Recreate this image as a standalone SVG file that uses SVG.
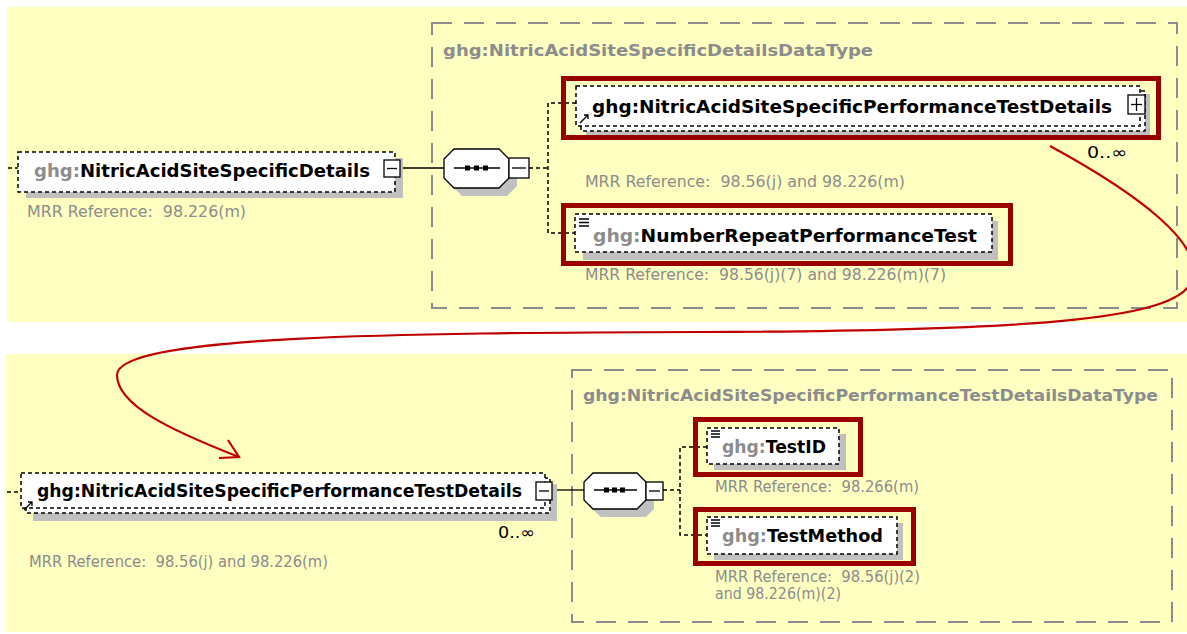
<svg xmlns="http://www.w3.org/2000/svg" width="1187" height="634" viewBox="0 0 1187 634">
<style>
.panel{fill:#FFFFC2}
.grp{fill:none;stroke:#8c8c8c;stroke-width:2;stroke-dasharray:20 12}
.shadow{fill:#c0c0c0}
.box{fill:#fff;stroke:#000;stroke-width:1.5;stroke-dasharray:4 3}
.hl{fill:none;stroke:#990000;stroke-width:5}
.name{font-family:"DejaVu Sans",Verdana,sans-serif;font-weight:bold;font-size:18px;fill:#000}
.pre{fill:#8c8c8c}
.ttl{font-family:"DejaVu Sans",Verdana,sans-serif;font-weight:bold;font-size:16px;fill:#8c8c8c}
.mrr{font-family:"DejaVu Sans",Verdana,sans-serif;font-size:15px;fill:#8c8c8c;white-space:pre}
.occ{font-family:"DejaVu Sans",Verdana,sans-serif;font-size:16px;fill:#000}
.icon{fill:#fff;stroke:#000;stroke-width:1.3}
.ln{stroke:#000;stroke-width:1.3;fill:none}
.dash{stroke:#000;stroke-width:1.5;fill:none;stroke-dasharray:4 3}
.curve{fill:none;stroke:#C00000;stroke-width:2.2}
</style>
<rect class="panel" x="7" y="7" width="1180" height="315"/>
<rect class="panel" x="6" y="354" width="1181" height="278"/>

<g id="group-top">
<rect class="grp" x="432" y="23" width="745" height="285"/>
<text class="ttl" x="443" y="56" textLength="430" lengthAdjust="spacingAndGlyphs">ghg:NitricAcidSiteSpecificDetailsDataType</text>
</g>
<g id="group-bottom">
<rect class="grp" x="572" y="370" width="600" height="252"/>
<text class="ttl" x="583" y="401" textLength="575" lengthAdjust="spacingAndGlyphs">ghg:NitricAcidSiteSpecificPerformanceTestDetailsDataType</text>
</g>

<g id="connectors">
<line class="dash" x1="8" y1="168" x2="18" y2="168"/>
<line class="ln" x1="400" y1="168" x2="444" y2="168"/>
<polyline class="dash" points="529,168 548,168"/>
<polyline class="dash" points="576,103 548,103 548,233 575,233"/>
<line class="dash" x1="7" y1="492" x2="21" y2="492"/>
<line class="ln" x1="552" y1="490" x2="584" y2="490"/>
<polyline class="dash" points="663,490 680,490"/>
<polyline class="dash" points="707,447 680,447 680,535 707,535"/>
<path class="curve" d="M1050,146 C1140,195 1205,245 1192,280 C1180,318 1050,331 700,332 C400,333 117,335 117,375 C117,405 170,430 239,457"/>
<polyline class="curve" points="228,440 239,457 219,458"/>
</g>

<g id="node-NitricAcidSiteSpecificDetails">
<rect class="shadow" x="26" y="158" width="377" height="40"/>
<rect class="box" x="18" y="152" width="377" height="40"/>
<text class="name" x="34" y="177" textLength="336" lengthAdjust="spacingAndGlyphs"><tspan class="pre">ghg:</tspan>NitricAcidSiteSpecificDetails</text>
<rect class="icon" x="384" y="160" width="16" height="17"/>
<line class="ln" x1="387" y1="168.5" x2="397" y2="168.5"/>
<text class="mrr" x="27" y="217" textLength="219" lengthAdjust="spacingAndGlyphs">MRR Reference:  98.226(m)</text>
</g>

<g id="seq-top">
<polygon class="shadow" points="462,157 507,157 517,167 517,186 507,196 462,196 452,186 452,167"/>
<polygon class="icon" points="454,149 499,149 509,159 509,178 499,188 454,188 444,178 444,159"/>
<line class="ln" x1="454" y1="168" x2="500" y2="168"/>
<rect x="465" y="165.5" width="5" height="5" fill="#000"/>
<rect x="474" y="165.5" width="5" height="5" fill="#000"/>
<rect x="483" y="165.5" width="5" height="5" fill="#000"/>
<rect class="icon" x="509" y="158" width="20" height="20"/>
<line class="ln" x1="512" y1="168" x2="526" y2="168"/>
</g>

<g id="node-NitricAcidSiteSpecificPerformanceTestDetails-top">
<rect class="hl" x="563.5" y="78.5" width="595" height="59"/>
<rect class="shadow" x="586" y="94" width="564" height="41"/>
<rect class="box" x="581" y="91" width="564" height="40"/>
<rect class="box" x="576" y="86" width="564" height="40"/>
<text class="name" x="592" y="113" textLength="520" lengthAdjust="spacingAndGlyphs">ghg:NitricAcidSiteSpecificPerformanceTestDetails</text>
<path class="ln" d="M580,123 L588,115 M584,115 L588,115 L588,119"/>
<rect class="icon" x="1128" y="95" width="17" height="19"/>
<line class="ln" x1="1131" y1="104.5" x2="1142" y2="104.5"/>
<line class="ln" x1="1136.5" y1="98" x2="1136.5" y2="111"/>
<text class="occ" x="1087" y="158" textLength="40" lengthAdjust="spacingAndGlyphs">0..∞</text>
<text class="mrr" x="585" y="187" textLength="320" lengthAdjust="spacingAndGlyphs">MRR Reference:  98.56(j) and 98.226(m)</text>
</g>

<g id="node-NumberRepeatPerformanceTest">
<rect class="hl" x="563.5" y="205.5" width="447" height="58"/>
<rect class="shadow" x="583" y="221" width="415" height="39"/>
<rect class="box" x="575" y="214" width="417" height="38"/>
<path class="ln" d="M579,219 H589 M579,222.5 H589 M579,226 H589"/>
<text class="name" x="593" y="242" textLength="384" lengthAdjust="spacingAndGlyphs"><tspan class="pre">ghg:</tspan>NumberRepeatPerformanceTest</text>
<text class="mrr" x="585" y="280" textLength="361" lengthAdjust="spacingAndGlyphs">MRR Reference:  98.56(j)(7) and 98.226(m)(7)</text>
</g>

<g id="node-NitricAcidSiteSpecificPerformanceTestDetails-bottom">
<rect class="shadow" x="33" y="484" width="524" height="37"/>
<rect class="box" x="26" y="478" width="524" height="35"/>
<rect class="box" x="21" y="473" width="524" height="35"/>
<text class="name" x="37" y="497" font-size="17" textLength="485" lengthAdjust="spacingAndGlyphs">ghg:NitricAcidSiteSpecificPerformanceTestDetails</text>
<path class="ln" d="M24,510 L32,502 M28,502 L32,502 L32,506"/>
<rect class="icon" x="536" y="482" width="16" height="18"/>
<line class="ln" x1="539" y1="491" x2="549" y2="491"/>
<text class="occ" x="498" y="538" textLength="37" lengthAdjust="spacingAndGlyphs">0..∞</text>
<text class="mrr" x="29" y="567" textLength="299" lengthAdjust="spacingAndGlyphs">MRR Reference:  98.56(j) and 98.226(m)</text>
</g>

<g id="seq-bottom">
<polygon class="shadow" points="601,481 646,481 654,489 654,509 646,517 601,517 592,509 592,489"/>
<polygon class="icon" points="593,473 637,473 646,482 646,500 637,509 593,509 584,500 584,482"/>
<line class="ln" x1="594" y1="490" x2="637" y2="490"/>
<rect x="604" y="487.5" width="5" height="5" fill="#000"/>
<rect x="612" y="487.5" width="5" height="5" fill="#000"/>
<rect x="620" y="487.5" width="5" height="5" fill="#000"/>
<rect class="icon" x="646" y="482" width="17" height="18"/>
<line class="ln" x1="649" y1="491" x2="660" y2="491"/>
</g>

<g id="node-TestID">
<rect class="hl" x="695.5" y="419.5" width="165" height="55"/>
<rect class="shadow" x="714" y="434" width="132" height="36"/>
<rect class="box" x="707" y="428" width="132" height="36"/>
<path class="ln" d="M711,431 H720 M711,434 H720 M711,437 H720"/>
<text class="name" x="722" y="453" textLength="104" lengthAdjust="spacingAndGlyphs"><tspan class="pre">ghg:</tspan>TestID</text>
<text class="mrr" x="715" y="492" textLength="204" lengthAdjust="spacingAndGlyphs">MRR Reference:  98.266(m)</text>
</g>

<g id="node-TestMethod">
<rect class="hl" x="695.5" y="509.5" width="218" height="54"/>
<rect class="shadow" x="714" y="523" width="189" height="37"/>
<rect class="box" x="707" y="517" width="190" height="37"/>
<path class="ln" d="M711,520 H720 M711,523 H720 M711,526 H720"/>
<text class="name" x="722" y="542" textLength="161" lengthAdjust="spacingAndGlyphs"><tspan class="pre">ghg:</tspan>TestMethod</text>
<text class="mrr" x="715" y="582" textLength="205" lengthAdjust="spacingAndGlyphs">MRR Reference:  98.56(j)(2)</text>
<text class="mrr" x="715" y="599" textLength="126" lengthAdjust="spacingAndGlyphs">and 98.226(m)(2)</text>
</g>
</svg>
